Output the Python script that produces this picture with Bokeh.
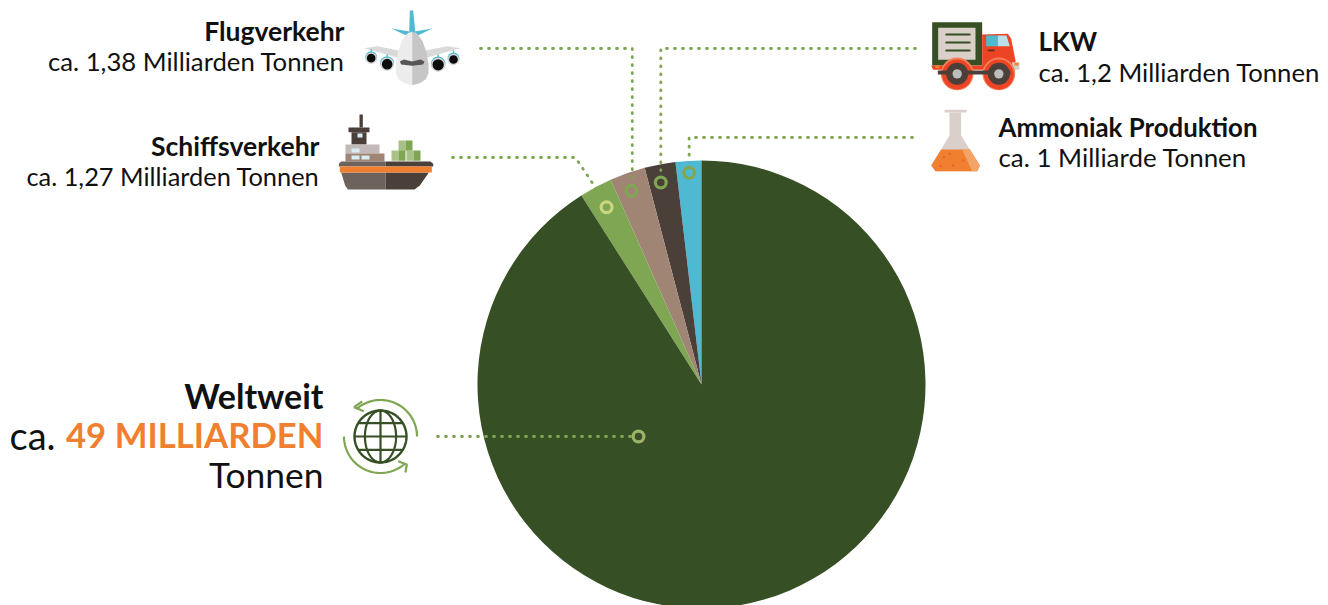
import numpy as np
from bokeh.core.properties import value
from bokeh.embed import file_html
from bokeh.models import Range1d
from bokeh.plotting import figure
from bokeh.resources import INLINE

# Yearly CO2 emissions in billion tonnes
sources = ["Weltweit", "Schiffsverkehr", "Flugverkehr", "LKW", "Ammoniak Produktion"]
emissions = [49, 1.27, 1.38, 1.2, 1]
slice_colors = ["#374f24", "#7fa653", "#a08474", "#4b3f3a", "#4fb9d2"]

headings = ["Flugverkehr", "Schiffsverkehr", "LKW", "Ammoniak Produktion"]
amounts = ["ca. 1,38 Milliarden Tonnen", "ca. 1,27 Milliarden Tonnen",
           "ca. 1,2 Milliarden Tonnen", "ca. 1 Milliarde Tonnen"]

W, H = 1328, 605
GREEN, DARK, TEAL, ORANGE = "#7fa653", "#374f24", "#4fb9d2", "#f0802f"
BROWN, TAUPE, BEIGE = "#4b3f3a", "#6e625c", "#dbcfc9"
FONT = value("Lato")

p = figure(width=W, height=H, x_range=Range1d(0, W), y_range=Range1d(0, H),
           output_backend="svg", toolbar_location=None, min_border=0,
           outline_line_color=None, background_fill_color="white", border_fill_color="white")
p.axis.visible = False
p.grid.visible = False


def Y(y):
    """Page-style y (downwards) to plot y (upwards)."""
    return H - np.asarray(y, dtype=float)


# Pie, drawn from 12 o'clock: the last source sits just left of the top
CX, CY, R = 701.0, 384.0, 224.0
total = sum(emissions)
fractions = np.array(emissions[::-1]) / total
ends = np.cumsum(fractions) * 2 * np.pi
starts = ends - fractions * 2 * np.pi
for s, e, c in zip(starts, ends, slice_colors[::-1]):
    p.wedge(x=[CX], y=[Y(CY)], radius=R, start_angle=[np.pi / 2 + s], end_angle=[np.pi / 2 + e],
            fill_color=c, line_color=None)
mids = dict(zip(sources[::-1], (starts + ends) / 2))


def on_slice(name, r, nudge=0.0):
    a = mids[name] + np.radians(nudge)
    return CX - r * np.sin(a), CY - r * np.cos(a)


def leader(xs, ys):
    p.line(xs, Y(ys), line_color=GREEN, line_width=2.8, line_dash="1 7", line_cap="round")


def ring(x, y, color):
    p.circle([x], [Y(y)], radius=5.4, fill_color=None, line_color=color, line_width=3.2)


rx, ry = on_slice("Ammoniak Produktion", 212)
leader([912, rx, rx], [137, 137, ry - 12]); ring(rx, ry, "#86a64e")
rx, ry = on_slice("LKW", 206, 0.7)
leader([915, rx, rx], [48, 48, ry - 12]); ring(rx, ry, GREEN)
rx, ry = on_slice("Flugverkehr", 206, 0.6)
leader([480, rx + 1, rx + 1], [48, 48, ry - 14]); ring(rx, ry, GREEN)
rx, ry = on_slice("Schiffsverkehr", 201)
leader([452, 575, rx - 6], [157, 157, ry - 12]); ring(rx, ry, "#c9d67e")
leader([437, 630], [436, 436]); ring(638, 436, "#9db36b")


def txt(x, y, s, size, bold=False, align="right", color="#111111"):
    p.text([x], [Y(y)], text=[s], text_font=FONT, text_font_size=f"{size}px",
           text_font_style="bold" if bold else "normal", text_align=align,
           text_baseline="alphabetic", text_color=color)


txt(344, 30, headings[0], 26.5, True); txt(344, 60, amounts[0], 25.7)
txt(319, 145, headings[1], 26.5, True); txt(319, 175, amounts[1], 25.4)
txt(1038, 40, headings[2], 26, True, "left"); txt(1038, 71, amounts[2], 25.7, False, "left")
txt(998, 126, headings[3], 25.8, True, "left"); txt(998, 156, amounts[3], 25.9, False, "left")
txt(323, 395, sources[0], 34, True)
txt(55, 434, "ca.", 38, False)
txt(323, 434, "49 MILLIARDEN", 34.7, True, "right", ORANGE)
txt(323, 474, "Tonnen", 35.4)


# Small pictograms, sketched on local grids at three units per pixel
def poly(ox, oy, pts, color):
    a = np.array(pts, dtype=float)
    p.patch(ox + a[:, 0] / 3, Y(oy + a[:, 1] / 3), fill_color=color, line_color=None)


def rect(ox, oy, x0, y0, x1, y1, color):
    poly(ox, oy, [(x0, y0), (x1, y0), (x1, y1), (x0, y1)], color)


def disc(ox, oy, x, y, r, color):
    p.circle([ox + x / 3], [Y(oy + y / 3)], radius=r / 3, fill_color=color, line_color=None)


# Aeroplane
ox, oy = 340, 0
poly(ox, oy, [(208, 30), (218, 30), (225, 100), (206, 100)], TEAL)
poly(ox, oy, [(153, 84), (207, 93), (198, 105)], TEAL)
poly(ox, oy, [(275, 84), (223, 93), (232, 105)], TEAL)
poly(ox, oy, [(70, 143), (110, 137), (175, 150), (172, 172), (120, 157)], "#d9d9d9")
poly(ox, oy, [(360, 143), (320, 137), (255, 150), (258, 172), (310, 157)], "#d9d9d9")
left_side = [(215, 93), (198, 101), (184, 122), (172, 155), (166, 190), (166, 218), (174, 236), (192, 248), (215, 254)]
poly(ox, oy, left_side, "#ececec")
poly(ox, oy, [(430 - x, y) for x, y in left_side], "#c6c6c6")
poly(ox, oy, [(178, 183), (190, 177), (215, 183), (240, 177), (252, 183), (248, 192), (215, 196), (182, 192)], "#555555")
for ex, ey, er in [(92, 170, 18), (140, 188, 21), (293, 190, 22), (339, 174, 18)]:
    rect(ox, oy, ex - 2, ey - er - 6, ex + 2, ey - er + 2, TEAL)
    disc(ox, oy, ex, ey, er, TEAL)
    disc(ox, oy, ex, ey + 3, er - 1, "#d9d9d9")
    disc(ox, oy, ex, ey + 3, er - 5, "#0c0c0c")

# Lorry
ox, oy = 920, 10
rect(ox, oy, 35, 35, 185, 165, DARK)
rect(ox, oy, 53, 52, 165, 148, BEIGE)
for ly in (72, 96, 120):
    rect(ox, oy, 75, ly - 3, 150, ly + 3, DARK)
poly(ox, oy, [(185, 72), (262, 70), (272, 85), (285, 150), (285, 178), (38, 178), (32, 165), (185, 165)], "#ec4424")
rect(ox, oy, 197, 75, 232, 107, TEAL)
poly(ox, oy, [(232, 75), (258, 75), (268, 107), (232, 107)], "#b9e0e8")
rect(ox, oy, 202, 117, 222, 122, "#5a2a1c")
rect(ox, oy, 275, 155, 297, 178, "#d5cfc9")
rect(ox, oy, 282, 157, 294, 165, ORANGE)
rect(ox, oy, 45, 165, 57, 173, ORANGE)
for wx in (110, 235):
    disc(ox, oy, wx, 190, 49, "#f4805a")
    disc(ox, oy, wx, 192, 45, "#ec4424")
rect(ox, oy, 52, 180, 270, 192, BROWN)
for wx in (110, 235):
    disc(ox, oy, wx, 190, 33, BROWN)
    disc(ox, oy, wx, 190, 14, "#bdbdbd")

# Flask
rect(ox, oy, 72, 298, 138, 306, BEIGE)
poly(ox, oy, [(87, 306), (122, 306), (122, 375), (178, 465), (170, 482), (45, 482), (32, 465), (87, 375)], BEIGE)
poly(ox, oy, [(62, 417), (148, 417), (178, 465), (170, 482), (45, 482), (32, 465)], ORANGE)
poly(ox, oy, [(125, 417), (148, 417), (178, 465), (170, 482), (155, 482)], "#f5a468")
for dx, dy in [(60, 467), (88, 430), (98, 465), (70, 440), (128, 450)]:
    disc(ox, oy, dx, dy, 3.5, "#e9603a")

# Ship
ox, oy = 330, 105
rect(ox, oy, 87, 27, 97, 66, BROWN)
rect(ox, oy, 54, 66, 117, 80, BROWN)
rect(ox, oy, 63, 80, 108, 117, BROWN)
rect(ox, oy, 81, 84, 96, 96, "#d8eef4")
rect(ox, oy, 45, 117, 147, 144, "#c3b9b8")
rect(ox, oy, 63, 129, 87, 141, "#d8eef4")
rect(ox, oy, 45, 144, 162, 168, "#a08474")
rect(ox, oy, 63, 150, 87, 162, "#d8eef4")
rect(ox, oy, 93, 150, 117, 162, "#d8eef4")
for bx, by, half in [(204, 105, 21), (183, 135, 21), (228, 135, 21)]:
    rect(ox, oy, bx, by, bx + half, by + 31, "#a9c185")
    rect(ox, oy, bx + half, by, bx + 2 * half, by + 31, GREEN)
poly(ox, oy, [(32, 168), (165, 168), (165, 183), (25, 183), (25, 175)], TAUPE)
poly(ox, oy, [(165, 168), (300, 168), (308, 175), (308, 183), (165, 183)], BROWN)
poly(ox, oy, [(32, 201), (165, 201), (165, 252), (52, 252), (44, 240)], TAUPE)
poly(ox, oy, [(165, 201), (295, 201), (268, 240), (252, 252), (165, 252)], BROWN)
rect(ox, oy, 28, 183, 304, 201, ORANGE)

# Globe with two circling arrows
gx, gy, gr = 380.0, 436.0, 26.0
t = np.linspace(0, 2 * np.pi, 90)
p.line(gx + gr * np.cos(t), Y(gy + gr * np.sin(t)), line_color=DARK, line_width=2.4)
p.line(gx + gr * 0.6 * np.cos(t), Y(gy + gr * np.sin(t)), line_color=DARK, line_width=2.2)
p.line([gx, gx], Y([gy - gr, gy + gr]), line_color=DARK, line_width=2.2)
for off in (-13.3, 0, 13.3):
    half = np.sqrt(gr ** 2 - off ** 2)
    p.line([gx - half, gx + half], Y([gy + off, gy + off]), line_color=DARK, line_width=2.2)
for a0, a1 in [(0, 131), (180, 312)]:
    a = np.radians(np.linspace(a0, a1, 50))
    p.line(gx + 36.5 * np.cos(a), Y(gy - 36.5 * np.sin(a)), line_color=GREEN, line_width=2.2)
ox, oy = 335, 390
for pts in ([(80, 33), (56, 50), (85, 62)], [(188, 212), (214, 222), (210, 246)]):
    a = np.array(pts, dtype=float)
    p.line(ox + a[:, 0] / 3, Y(oy + a[:, 1] / 3), line_color=GREEN, line_width=2.2)

open("out.html", "w").write(file_html(p, INLINE))
